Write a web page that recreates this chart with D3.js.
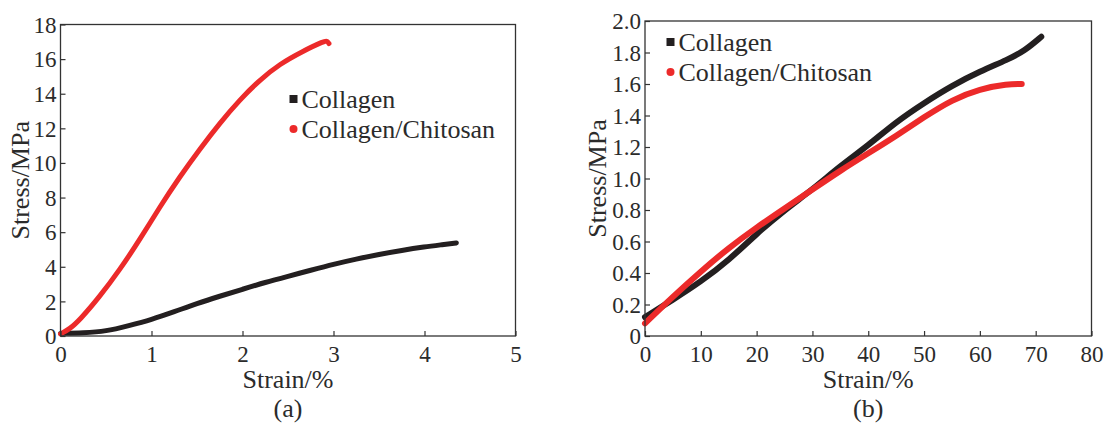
<!DOCTYPE html>
<html>
<head>
<meta charset="utf-8">
<script src="https://cdn.jsdelivr.net/npm/d3@7"></script>
<style>
  body { margin: 0; background: #fff; }
</style>
</head>
<body>
<svg id="chart" width="1105" height="425"></svg>
<script>
// panel (a): strain %, stress MPa
const collagenA = [[0, 0.15], [0.25, 0.18], [0.5, 0.27], [0.75, 0.6], [1.0, 0.95], [1.25, 1.4],
  [1.5, 1.88], [1.75, 2.3], [2.0, 2.7], [2.25, 3.1], [2.5, 3.45], [2.75, 3.8], [3.0, 4.15],
  [3.25, 4.45], [3.5, 4.72], [3.75, 4.95], [4.0, 5.15], [4.2, 5.28], [4.35, 5.38]];
const chitosanA = [[0, 0.12], [0.1, 0.4], [0.21, 0.92], [0.43, 2.27], [0.65, 3.82], [0.87, 5.55],
  [1.09, 7.45], [1.31, 9.2], [1.53, 10.8], [1.75, 12.3], [1.97, 13.65], [2.19, 14.8],
  [2.41, 15.72], [2.66, 16.45], [2.9, 17.05], [2.93, 17.05], [2.95, 16.9]];

// panel (b)
const collagenB = [[0, 0.12], [5, 0.23], [10, 0.345], [15, 0.48], [20, 0.65], [25, 0.8],
  [30, 0.93], [35, 1.08], [40, 1.21], [45, 1.36], [50, 1.48], [55, 1.59], [60, 1.68],
  [65, 1.755], [68, 1.81], [71, 1.9]];
const chitosanB = [[0, 0.08], [5, 0.25], [10, 0.41], [15, 0.56], [20, 0.69], [25, 0.81],
  [30, 0.93], [35, 1.05], [40, 1.16], [45, 1.27], [50, 1.39], [55, 1.5], [60, 1.57],
  [65, 1.6], [67.5, 1.6]];

const seriesNames = ['Collagen', 'Collagen/Chitosan'];
const ticksA = { x: [0, 1, 2, 3, 4, 5], y: [0, 2, 4, 6, 8, 10, 12, 14, 16, 18] };
const ticksB = { x: [0, 10, 20, 30, 40, 50, 60, 70, 80], y: [0, 0.2, 0.4, 0.6, 0.8, 1.0, 1.2, 1.4, 1.6, 1.8, 2.0] };

const BLACK = '#231f20', RED = '#ec2a2a', INK = '#2b2b2b';
const FONT = 'Liberation Serif';
const svg = d3.select('#chart');

function label(g, size) {
  return g.append('text').attr('font-family', FONT).attr('font-size', size).attr('fill', INK);
}

function panel(opt) {
  const x = d3.scaleLinear().domain(opt.xDomain).range([opt.left, opt.right]);
  const y = d3.scaleLinear().domain(opt.yDomain).range([opt.bottom, opt.top]);
  const g = svg.append('g');

  // curves (smoothed through the read-off points)
  const line = d3.line().x(d => x(d[0])).y(d => y(d[1])).curve(d3.curveBasis);
  g.append('path').datum(opt.black).attr('d', line)
    .attr('fill', 'none').attr('stroke', BLACK).attr('stroke-width', opt.lw).attr('stroke-linecap', 'round');
  g.append('path').datum(opt.red).attr('d', line)
    .attr('fill', 'none').attr('stroke', RED).attr('stroke-width', opt.lw).attr('stroke-linecap', 'round');

  // frame
  g.append('rect').attr('x', opt.left).attr('y', opt.top)
    .attr('width', opt.right - opt.left).attr('height', opt.bottom - opt.top)
    .attr('fill', 'none').attr('stroke', '#333').attr('stroke-width', 1.3);

  const xAxis = g.append('g').attr('transform', `translate(0,${opt.bottom})`)
    .call(d3.axisBottom(x).tickValues(opt.ticks.x).tickSize(-5).tickPadding(10).tickFormat(opt.xFmt));
  const yAxis = g.append('g').attr('transform', `translate(${opt.left},0)`)
    .call(d3.axisLeft(y).tickValues(opt.ticks.y).tickSize(-5).tickPadding(4).tickFormat(opt.yFmt));
  [xAxis, yAxis].forEach(a => {
    a.attr('font-family', FONT).attr('font-size', 23);
    a.select('.domain').remove();
    a.selectAll('line').attr('stroke', '#333').attr('stroke-width', 1.2);
    a.selectAll('text').attr('fill', INK);
  });
  xAxis.selectAll('text').attr('dy', '0.71em');
  yAxis.selectAll('text').attr('dy', '0.34em');

  const cx = (opt.left + opt.right) / 2;
  label(g, 26).attr('x', cx).attr('y', opt.bottom + 52).attr('text-anchor', 'middle').text('Strain/%');
  label(g, 26).attr('x', cx).attr('y', opt.bottom + 81).attr('text-anchor', 'middle').text(opt.caption);
  label(g, 26).attr('transform', `translate(${opt.titleX},${(opt.top + opt.bottom) / 2}) rotate(-90)`)
    .attr('text-anchor', 'middle').text('Stress/MPa');

  // legend
  const lg = g.append('g').attr('transform', `translate(${opt.legX},${opt.legY})`);
  lg.append('rect').attr('x', -4).attr('y', -4).attr('width', 8).attr('height', 8).attr('fill', BLACK);
  lg.append('circle').attr('cx', 0).attr('cy', 30).attr('r', 4).attr('fill', RED);
  seriesNames.forEach((name, i) => {
    label(lg, 26).attr('x', 8).attr('y', i * 30).attr('dy', '0.35em').text(name);
  });
}

panel({
  left: 60.5, right: 515.5, top: 24.5, bottom: 336,
  xDomain: [0, 5], yDomain: [0, 18], ticks: ticksA,
  xFmt: d3.format('d'), yFmt: d3.format('d'),
  black: collagenA, red: chitosanA, lw: 5,
  caption: '(a)', titleX: 29, legX: 293.5, legY: 99
});
panel({
  left: 645, right: 1091.5, top: 21, bottom: 336,
  xDomain: [0, 80], yDomain: [0, 2], ticks: ticksB,
  xFmt: d3.format('d'), yFmt: d => d === 0 ? '0' : d3.format('.1f')(d),
  black: collagenB, red: chitosanB, lw: 6,
  caption: '(b)', titleX: 606, legX: 670.5, legY: 42
});
</script>
</body>
</html>
